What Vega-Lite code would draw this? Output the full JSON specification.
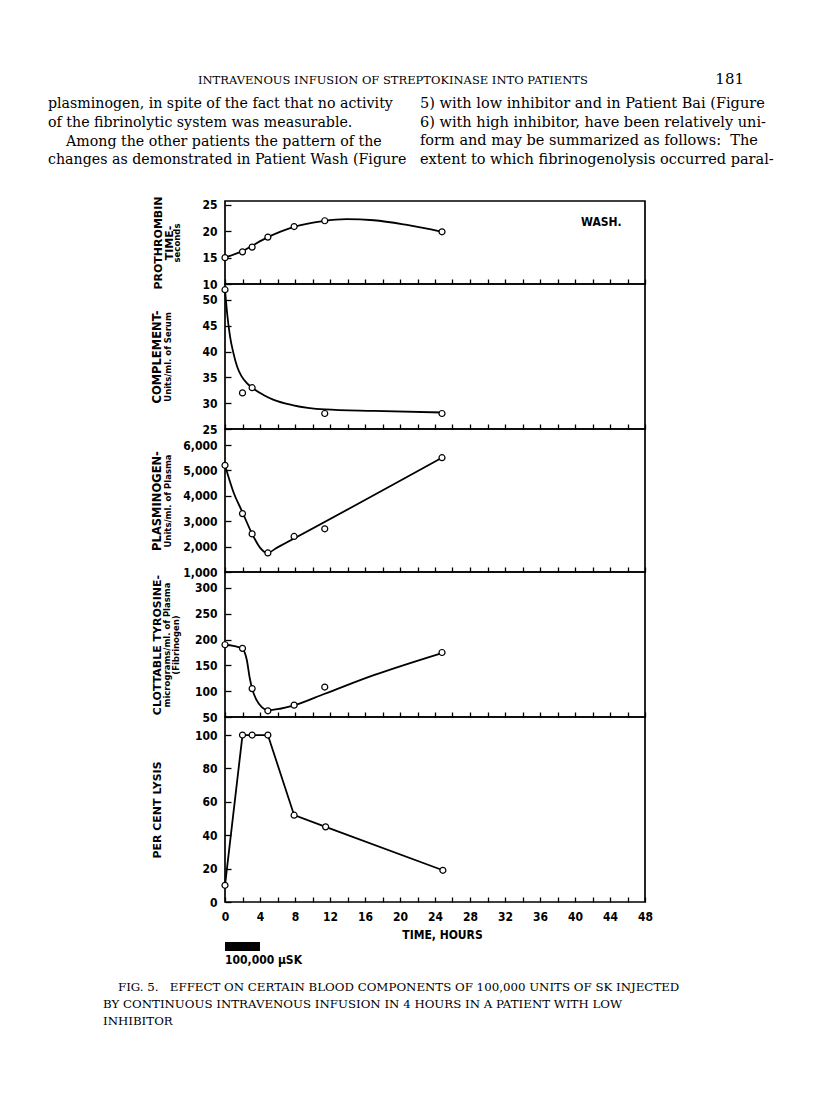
{
  "$schema": "https://vega.github.io/schema/vega-lite/v6.json",
  "background": "white",
  "padding": {"left": 48, "top": 72, "right": 10, "bottom": 5},
  "config": {
    "view": {"stroke": null},
    "axis": {"grid": false, "labelFont": "DejaVu Sans Condensed, Liberation Sans, sans-serif", "labelFontWeight": "bold", "labelFontSize": 12, "labelColor": "black", "tickColor": "black", "domainColor": "black", "titleColor": "black", "titleFont": "DejaVu Sans", "titleFontWeight": "bold"},
    "title": {"color": "black", "fontWeight": "normal"}
  },
  "datasets": {
    "prothrombin": [{"t":0,"v":15},{"t":2,"v":16.1},{"t":3.1,"v":17},{"t":4.9,"v":18.9},{"t":7.9,"v":20.9},{"t":11.4,"v":22},{"t":24.8,"v":19.9}],
    "prothrombin_curve": [{"t":0,"v":15},{"t":1.9,"v":16.2},{"t":4.9,"v":18.9},{"t":7.8,"v":20.8},{"t":11.2,"v":21.95},{"t":13.9,"v":22.3},{"t":17,"v":22.1},{"t":20.8,"v":21.2},{"t":24.8,"v":19.9}],
    "complement": [{"t":0,"v":52},{"t":2,"v":32},{"t":3.1,"v":33},{"t":11.4,"v":28},{"t":24.8,"v":28}],
    "complement_curve": [{"t":0,"v":52},{"t":0.27,"v":47},{"t":0.57,"v":43},{"t":0.95,"v":39.8},{"t":1.4,"v":37},{"t":1.9,"v":35.2},{"t":2.5,"v":33.9},{"t":3.1,"v":33},{"t":4.4,"v":31.6},{"t":5.5,"v":30.7},{"t":7.8,"v":29.6},{"t":11.4,"v":28.8},{"t":17,"v":28.5},{"t":24.8,"v":28.2}],
    "plasminogen": [{"t":0,"v":5200},{"t":2,"v":3300},{"t":3.1,"v":2500},{"t":4.9,"v":1750},{"t":7.9,"v":2400},{"t":11.4,"v":2700},{"t":24.8,"v":5500}],
    "plasminogen_curve": [{"t":0,"v":5200},{"t":0.95,"v":4160},{"t":2,"v":3350},{"t":3.1,"v":2500},{"t":4,"v":1960},{"t":4.8,"v":1750},{"t":6,"v":1970},{"t":24.8,"v":5500}],
    "tyrosine": [{"t":0,"v":190},{"t":2,"v":183},{"t":3.1,"v":105},{"t":4.9,"v":62},{"t":7.9,"v":73},{"t":11.4,"v":108},{"t":24.8,"v":175}],
    "tyrosine_curve": [{"t":0,"v":190},{"t":0.95,"v":188},{"t":2,"v":182},{"t":2.5,"v":160},{"t":2.8,"v":128},{"t":3.1,"v":105},{"t":3.6,"v":83},{"t":4.2,"v":69},{"t":4.9,"v":63},{"t":6.3,"v":66},{"t":7.8,"v":72},{"t":11.4,"v":95},{"t":17,"v":131},{"t":24.8,"v":174}],
    "lysis": [{"t":0,"v":10},{"t":2,"v":100},{"t":3.1,"v":100},{"t":4.9,"v":100},{"t":7.9,"v":52},{"t":11.5,"v":45},{"t":24.9,"v":19}],
    "infusion": [{"start":0,"end":4}]
  },
  "bounds": "flush",
  "spacing": 0,
  "vconcat": [
    {"width": 420, "height": 1, "data": {"values": []}, "mark": "text",
     "title": {"text": "INTRAVENOUS INFUSION OF STREPTOKINASE INTO PATIENTS", "orient": "top", "anchor": "start", "frame": "group", "dx": -27, "offset": 85, "font": "DejaVu Serif", "fontSize": 11.5}},
    {"width": 420, "height": 1, "data": {"values": []}, "mark": "text",
     "title": {"text": "181", "orient": "top", "anchor": "end", "frame": "group", "dx": 99, "offset": 85, "font": "DejaVu Serif", "fontSize": 15}},
    {"width": 420, "height": 1, "data": {"values": []}, "mark": "text",
     "title": {"text": ["plasminogen, in spite of the fact that no activity", "of the fibrinolytic system was measurable.", "\u200b\u00a0\u00a0\u00a0\u00a0Among the other patients the pattern of the", "changes as demonstrated in Patient Wash (Figure"], "orient": "top", "anchor": "start", "frame": "group", "dx": -177, "offset": 5.5, "font": "DejaVu Serif", "fontSize": 14.2, "lineHeight": 18.7}},
    {"width": 420, "height": 1, "data": {"values": []}, "mark": "text",
     "title": {"text": ["5) with low inhibitor and in Patient Bai (Figure", "6) with high inhibitor, have been relatively uni-", "form and may be summarized as follows:\u00a0 The", "extent to which fibrinogenolysis occurred paral-"], "orient": "top", "anchor": "start", "frame": "group", "dx": 195, "offset": 6.5, "font": "DejaVu Serif", "fontSize": 14.5, "lineHeight": 18.7}},
    {"width": 420, "height": 26, "data": {"values": []}, "mark": "text"},
    {
      "width": 420, "height": 83,
      "view": {"stroke": "black", "strokeWidth": 1.7},
      "title": {"text": "WASH.", "orient": "top", "anchor": "end", "offset": -33, "dx": -24, "font": "DejaVu Sans Condensed, Liberation Sans, sans-serif", "fontSize": 12, "fontWeight": "bold"},
      "layer": [
        {"data": {"name": "prothrombin_curve"},
         "mark": {"type": "line", "interpolate": "monotone", "color": "black", "strokeWidth": 1.8},
         "encoding": {
           "x": {"field": "t", "type": "quantitative", "scale": {"domain": [0, 48], "nice": false, "zero": false},
                 "axis": {"values": [0,2,4,6,8,10,12,14,16,18,20,22,24,26,28,30,32,34,36,38,40,42,44,46,48], "labels": false, "domain": false, "tickSize": -5, "tickWidth": 1.3, "title": null}},
           "y": {"field": "v", "type": "quantitative", "scale": {"domain": [10, 25.75], "nice": false, "zero": false},
                 "axis": {"orient": "left", "labels": false, "ticks": false, "domain": false, "title": ["PROTHROMBIN", "TIME-"], "titleX": -62, "titleFontSize": 11, "titleLineHeight": 11.5}}
         }},
        {"data": {"name": "prothrombin"},
         "mark": {"type": "point", "shape": "circle", "filled": true, "fill": "white", "stroke": "black", "strokeWidth": 1.2, "size": 36, "opacity": 1},
         "encoding": {
           "x": {"field": "t", "type": "quantitative", "scale": {"domain": [0, 48], "nice": false, "zero": false},
                 "axis": {"values": [0,2,4,6,8,10,12,14,16,18,20,22,24,26,28,30,32,34,36,38,40,42,44,46,48], "labels": false, "domain": false, "tickSize": -5, "tickWidth": 1.3, "title": null}},
           "y": {"field": "v", "type": "quantitative", "scale": {"domain": [10, 25.75], "nice": false, "zero": false},
                 "axis": {"orient": "left", "values": [10, 15, 20, 25], "format": "d", "domain": false, "tickSize": -6, "tickWidth": 1.3, "labelPadding": 14, "labelOverlap": false, "title": "seconds", "titleX": -44, "titleFontSize": 8.5}}
         }}
      ],
      "resolve": {"scale": {"y": "independent"}}
    },
    {
      "width": 420, "height": 145,
      "view": {"stroke": "black", "strokeWidth": 1.7},
      "layer": [
        {"data": {"name": "complement_curve"},
         "mark": {"type": "line", "interpolate": "monotone", "color": "black", "strokeWidth": 1.8},
         "encoding": {
           "x": {"field": "t", "type": "quantitative", "scale": {"domain": [0, 48], "nice": false, "zero": false},
                 "axis": {"values": [0,2,4,6,8,10,12,14,16,18,20,22,24,26,28,30,32,34,36,38,40,42,44,46,48], "labels": false, "domain": false, "tickSize": -5, "tickWidth": 1.3, "title": null}},
           "y": {"field": "v", "type": "quantitative", "scale": {"domain": [25, 53.1], "nice": false, "zero": false},
                 "axis": {"orient": "left", "labels": false, "ticks": false, "domain": false, "title": "COMPLEMENT-", "titleX": -63, "titleFontSize": 11.5}}
         }},
        {"data": {"name": "complement"},
         "mark": {"type": "point", "shape": "circle", "filled": true, "fill": "white", "stroke": "black", "strokeWidth": 1.2, "size": 36, "opacity": 1},
         "encoding": {
           "x": {"field": "t", "type": "quantitative", "scale": {"domain": [0, 48], "nice": false, "zero": false},
                 "axis": {"values": [0,2,4,6,8,10,12,14,16,18,20,22,24,26,28,30,32,34,36,38,40,42,44,46,48], "labels": false, "domain": false, "tickSize": -5, "tickWidth": 1.3, "title": null}},
           "y": {"field": "v", "type": "quantitative", "scale": {"domain": [25, 53.1], "nice": false, "zero": false},
                 "axis": {"orient": "left", "values": [25, 30, 35, 40, 45, 50], "format": "d", "domain": false, "tickSize": -6, "tickWidth": 1.3, "labelPadding": 14, "labelOverlap": false, "title": "Units/ml. of Serum", "titleX": -53, "titleFontSize": 8.5}}
         }}
      ],
      "resolve": {"scale": {"y": "independent"}}
    },
    {
      "width": 420, "height": 143,
      "view": {"stroke": "black", "strokeWidth": 1.7},
      "layer": [
        {"data": {"name": "plasminogen_curve"},
         "mark": {"type": "line", "interpolate": "monotone", "color": "black", "strokeWidth": 1.8},
         "encoding": {
           "x": {"field": "t", "type": "quantitative", "scale": {"domain": [0, 48], "nice": false, "zero": false},
                 "axis": {"values": [0,2,4,6,8,10,12,14,16,18,20,22,24,26,28,30,32,34,36,38,40,42,44,46,48], "labels": false, "domain": false, "tickSize": -5, "tickWidth": 1.3, "title": null}},
           "y": {"field": "v", "type": "quantitative", "scale": {"domain": [1000, 6630], "nice": false, "zero": false},
                 "axis": {"orient": "left", "labels": false, "ticks": false, "domain": false, "title": "PLASMINOGEN-", "titleX": -63, "titleFontSize": 11.5}}
         }},
        {"data": {"name": "plasminogen"},
         "mark": {"type": "point", "shape": "circle", "filled": true, "fill": "white", "stroke": "black", "strokeWidth": 1.2, "size": 36, "opacity": 1},
         "encoding": {
           "x": {"field": "t", "type": "quantitative", "scale": {"domain": [0, 48], "nice": false, "zero": false},
                 "axis": {"values": [0,2,4,6,8,10,12,14,16,18,20,22,24,26,28,30,32,34,36,38,40,42,44,46,48], "labels": false, "domain": false, "tickSize": -5, "tickWidth": 1.3, "title": null}},
           "y": {"field": "v", "type": "quantitative", "scale": {"domain": [1000, 6630], "nice": false, "zero": false},
                 "axis": {"orient": "left", "values": [1000, 2000, 3000, 4000, 5000, 6000], "format": ",.0f", "domain": false, "tickSize": -6, "tickWidth": 1.3, "labelPadding": 14, "labelOverlap": false, "title": "Units/ml. of Plasma", "titleX": -53, "titleFontSize": 8.5}}
         }}
      ],
      "resolve": {"scale": {"y": "independent"}}
    },
    {
      "width": 420, "height": 145,
      "view": {"stroke": "black", "strokeWidth": 1.7},
      "layer": [
        {"data": {"name": "tyrosine_curve"},
         "mark": {"type": "line", "interpolate": "monotone", "color": "black", "strokeWidth": 1.8},
         "encoding": {
           "x": {"field": "t", "type": "quantitative", "scale": {"domain": [0, 48], "nice": false, "zero": false},
                 "axis": {"values": [0,2,4,6,8,10,12,14,16,18,20,22,24,26,28,30,32,34,36,38,40,42,44,46,48], "labels": false, "domain": false, "tickSize": -5, "tickWidth": 1.3, "title": null}},
           "y": {"field": "v", "type": "quantitative", "scale": {"domain": [50, 331], "nice": false, "zero": false},
                 "axis": {"orient": "left", "labels": false, "ticks": false, "domain": false, "title": "CLOTTABLE TYROSINE-", "titleX": -63, "titleFontSize": 11}}
         }},
        {"data": {"name": "tyrosine"},
         "mark": {"type": "point", "shape": "circle", "filled": true, "fill": "white", "stroke": "black", "strokeWidth": 1.2, "size": 36, "opacity": 1},
         "encoding": {
           "x": {"field": "t", "type": "quantitative", "scale": {"domain": [0, 48], "nice": false, "zero": false},
                 "axis": {"values": [0,2,4,6,8,10,12,14,16,18,20,22,24,26,28,30,32,34,36,38,40,42,44,46,48], "labels": false, "domain": false, "tickSize": -5, "tickWidth": 1.3, "title": null}},
           "y": {"field": "v", "type": "quantitative", "scale": {"domain": [50, 331], "nice": false, "zero": false},
                 "axis": {"orient": "left", "values": [50, 100, 150, 200, 250, 300], "format": "d", "domain": false, "tickSize": -6, "tickWidth": 1.3, "labelPadding": 14, "labelOverlap": false, "title": ["micrograms/ml. of Plasma", "(Fibrinogen)"], "titleX": -54, "titleFontSize": 8.5, "titleLineHeight": 9.5}}
         }}
      ],
      "resolve": {"scale": {"y": "independent"}}
    },
    {
      "width": 420, "height": 185,
      "view": {"stroke": "black", "strokeWidth": 1.7},
      "layer": [
        {"data": {"name": "lysis"},
         "mark": {"type": "line", "color": "black", "strokeWidth": 1.8},
         "encoding": {
           "x": {"field": "t", "type": "quantitative", "scale": {"domain": [0, 48], "nice": false, "zero": false},
                 "axis": {"values": [0,2,4,6,8,10,12,14,16,18,20,22,24,26,28,30,32,34,36,38,40,42,44,46,48], "format": "d", "labelExpr": "datum.value % 4 === 0 ? datum.label : ''", "labelFlush": false, "labelOverlap": false, "labelPadding": 14, "domain": false, "tickSize": -5, "tickWidth": 1.3, "title": "TIME, HOURS", "titleX": 217, "titleY": 27, "titleFont": "DejaVu Sans Condensed, Liberation Sans, sans-serif", "titleFontSize": 12}},
           "y": {"field": "v", "type": "quantitative", "scale": {"domain": [0, 110.8], "nice": false, "zero": false},
                 "axis": {"orient": "left", "labels": false, "ticks": false, "domain": false, "title": "PER CENT LYSIS", "titleX": -63, "titleFontSize": 11}}
         }},
        {"data": {"name": "lysis"},
         "mark": {"type": "point", "shape": "circle", "filled": true, "fill": "white", "stroke": "black", "strokeWidth": 1.2, "size": 36, "opacity": 1},
         "encoding": {
           "x": {"field": "t", "type": "quantitative", "scale": {"domain": [0, 48], "nice": false, "zero": false},
                 "axis": {"values": [0,2,4,6,8,10,12,14,16,18,20,22,24,26,28,30,32,34,36,38,40,42,44,46,48], "format": "d", "labelExpr": "datum.value % 4 === 0 ? datum.label : ''", "labelFlush": false, "labelOverlap": false, "labelPadding": 14, "domain": false, "tickSize": -5, "tickWidth": 1.3, "title": "TIME, HOURS", "titleX": 217, "titleY": 27, "titleFont": "DejaVu Sans Condensed, Liberation Sans, sans-serif", "titleFontSize": 12}},
           "y": {"field": "v", "type": "quantitative", "scale": {"domain": [0, 110.8], "nice": false, "zero": false},
                 "axis": {"orient": "left", "values": [0, 20, 40, 60, 80, 100], "format": "d", "domain": false, "tickSize": -6, "tickWidth": 1.3, "labelPadding": 14, "labelOverlap": false, "title": null}}
         }}
      ],
      "resolve": {"scale": {"y": "independent"}}
    },
    {"width": 420, "height": 40, "data": {"values": []}, "mark": "text"},
    {"width": 420, "height": 9,
     "data": {"name": "infusion"},
     "mark": {"type": "rect", "color": "black"},
     "encoding": {
       "x": {"field": "start", "type": "quantitative", "scale": {"domain": [0, 48], "nice": false, "zero": false}, "axis": null},
       "x2": {"field": "end"}
     },
     "title": {"text": "100,000 \u03bcSK", "orient": "bottom", "anchor": "start", "frame": "group", "offset": 4, "font": "DejaVu Sans Condensed, Liberation Sans, sans-serif", "fontSize": 12, "fontWeight": "bold"}},
    {"width": 420, "height": 1, "data": {"values": []}, "mark": "text",
     "title": {"text": ["\u200b\u00a0\u00a0\u00a0\u00a0FIG. 5.\u00a0\u00a0 EFFECT ON CERTAIN BLOOD COMPONENTS OF 100,000 UNITS OF SK INJECTED", "BY CONTINUOUS INTRAVENOUS INFUSION IN 4 HOURS IN A PATIENT WITH LOW", "INHIBITOR"], "orient": "bottom", "anchor": "start", "frame": "group", "dx": -122, "offset": 30, "font": "DejaVu Serif", "fontSize": 11.8, "lineHeight": 17}}
  ]
}
